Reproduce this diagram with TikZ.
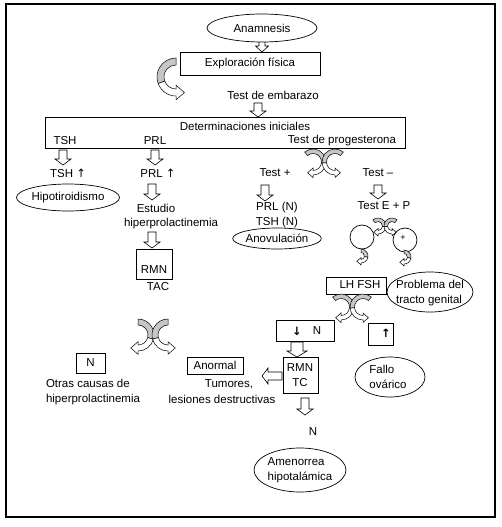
\documentclass[tikz,border=0pt]{standalone}
\usepackage{fontspec}
\setmainfont{Liberation Sans}
\newfontfamily\arrowfont{DejaVu Sans}
\usetikzlibrary{shapes.geometric}
\tikzset{
  txt/.style={inner sep=0pt, font=\fontsize{11.5}{14.5}\selectfont},
  boxn/.style={draw, line width=0.7pt, inner sep=0pt, fill=white},
  ell/.style={draw, ellipse, line width=0.7pt, inner sep=0pt, fill=white},
  harr/.style={draw, fill=white, line width=0.6pt},
  cvgray/.style={draw, fill=gray!45, line width=0.5pt},
  cvwhite/.style={draw, fill=white, line width=0.5pt},
}
% hollow block arrow: tail x, tail y, length, angle, shaft half width, head half width
\newcommand\blockarr[6]{%
  \begin{scope}[shift={(#1,#2)}, rotate=#4, yscale=-1]
    \draw[harr] (0,-#5) -- (#3-6,-#5) -- (#3-6,-#6) -- (#3,0) -- (#3-6,#6) -- (#3-6,#5) -- (0,#5) -- cycle;
  \end{scope}}
% curved arrow: centre x, y, xscale, outer R, inner r, start angle, grey end angle, head angle
\newcommand\curvarr[8]{%
  \begin{scope}[shift={(#1,#2)}, yscale=-1, xscale=#3]
    \pgfmathsetmacro\cvRm{(#4+#5)/2}%
    \pgfmathsetmacro\cvHo{#4+0.55*(#4-#5)}%
    \pgfmathsetmacro\cvHi{#5-0.55*(#4-#5)}%
    \pgfmathsetmacro\cvHl{1.2*(#4-#5)}%
    \pgfmathsetmacro\cvTx{\cvRm*cos(#8)-\cvHl*sin(#8)}%
    \pgfmathsetmacro\cvTy{\cvRm*sin(#8)+\cvHl*cos(#8)}%
    \draw[cvgray] (#6:#4) arc[start angle=#6, end angle=#7, radius=#4] -- (#7:#5) arc[start angle=#7, end angle=#6, radius=#5] -- cycle;
    \draw[cvwhite] (#7:#4) arc[start angle=#7, end angle=#8, radius=#4] -- (#8:\cvHo) -- (\cvTx,\cvTy) -- (#8:\cvHi) -- (#8:#5) arc[start angle=#8, end angle=#7, radius=#5] -- cycle;
  \end{scope}}
\begin{document}
\begin{tikzpicture}[x=1pt,y=-1pt]
\useasboundingbox (0,0) rectangle (502,527);
\draw[line width=1.2pt] (6,4) rectangle (495,517);

% block arrows
\blockarr{262}{41}{11}{-90}{3}{6.5}
\blockarr{258}{103}{14}{-90}{4}{8}
\blockarr{63}{150}{15}{-90}{4}{8}
\blockarr{155}{150}{15}{-90}{4}{8}
\blockarr{152}{184}{16}{-90}{4}{8}
\blockarr{152}{232}{16}{-90}{4}{8}
\blockarr{265}{185}{16}{-90}{4}{8}
\blockarr{378}{185}{14}{-90}{4}{8}
\blockarr{297}{342}{15}{-90}{6}{10}
\blockarr{282}{376}{20}{180}{4}{8}
\blockarr{305}{398}{17}{-90}{4}{8}

% top
\node[ell, txt, minimum width=110pt, minimum height=28pt] (anam) at (262,28) {Anamnesis};
\node[boxn, txt, minimum width=140pt, minimum height=23pt] (expl) at (250,63.5) {Exploración física};
\curvarr{176}{77}{1}{19}{12}{90}{200}{270}
\node[txt] (emb) at (273,95) {Test de embarazo};

% determinaciones
\node[boxn, minimum width=360pt, minimum height=31pt] (det) at (225,132.5) {};
\node[txt] (deti) at (245,126) {Determinaciones iniciales};
\node[txt] (tsh) at (65,141) {TSH};
\node[txt] (prl) at (155,141) {PRL};
\node[txt] (tprog) at (342,141) {Test de progesterona};

% left branch
\node[txt] (tshu) at (68,173) {TSH {\arrowfont ↑}};
\node[ell, txt, minimum width=84pt, minimum height=27pt] (hipo) at (68,197.5) {Hipotiroidismo};
\node[txt] (prlu) at (158,173) {PRL {\arrowfont ↑}};
\node[txt] (estu) at (156,208) {Estudio};
\node[txt] (hiper) at (171,224) {hiperprolactinemia};
\node[boxn, minimum width=36pt, minimum height=30pt] (rmn) at (154,264) {};
\node[txt] (rmnt) at (154,270) {RMN};
\node[txt] (tac) at (158,287) {TAC};
\curvarr{138}{335}{-1}{16}{10}{90}{195}{270}
\curvarr{168}{335}{1}{16}{10}{90}{195}{270}
\node[boxn, txt, minimum width=29pt, minimum height=20pt] (nbox) at (90.5,363) {N};
\node[txt, align=left] (otras) at (93,392) {Otras causas de\\hiperprolactinemia};

% progesterone branch
\curvarr{313}{162}{-1}{13}{8.5}{50}{185}{270}
\curvarr{335}{162}{1}{13}{8.5}{50}{185}{270}
\node[txt] (tplus) at (275,173) {Test +};
\node[txt] (tminus) at (378,173) {Test –};
\node[txt] (prln) at (277,208) {PRL (N)};
\node[txt] (tshn) at (277,223) {TSH (N)};
\node[ell, txt, minimum width=82pt, minimum height=21pt] (anov) at (277,238.5) {Anovulación};
\node[txt] (tep) at (384,206) {Test E + P};
\curvarr{378}{226}{-1}{8}{4.5}{50}{185}{270}
\curvarr{392}{226}{1}{8}{4.5}{50}{185}{270}
\node[draw, circle, line width=0.7pt, minimum size=24pt, inner sep=0pt] (c1) at (362,237) {};
\node[draw, circle, line width=0.7pt, minimum size=24pt, inner sep=0pt] (c2) at (405,240) {};
\node[inner sep=0pt, font=\fontsize{9}{9}\selectfont] (plus) at (403,238) {+};
\curvarr{361}{256}{-1}{7}{3.5}{90}{190}{270}
\curvarr{404}{257}{-1}{7}{3.5}{90}{190}{270}

\node[boxn, minimum width=60pt, minimum height=17pt] (lhbox) at (356,285.5) {};
\node[txt] (lh) at (360,285) {LH FSH};
\node[ell, minimum width=86pt, minimum height=40pt] (prob) at (430,292) {};
\node[txt, align=left] (probt) at (430,293) {Problema del\\tracto genital};
\curvarr{341}{307}{-1}{13}{8.5}{50}{185}{270}
\curvarr{363}{307}{1}{13}{8.5}{50}{185}{270}

\node[boxn, minimum width=58pt, minimum height=21pt] (dnbox) at (305,330.5) {};
\node[txt] (dn) at (297,331) {\arrowfont\bfseries ↓};
\node[txt] (dnn) at (317,331) {N};
\node[boxn, minimum width=25pt, minimum height=22pt] (upbox) at (380.5,334) {};
\node[txt] (up) at (386,333) {\arrowfont\bfseries ↑};

\node[boxn, minimum width=35pt, minimum height=36pt] (rmntc) at (300.5,375) {};
\node[txt] (rmn2) at (300,368) {RMN};
\node[txt] (tc) at (300,383) {TC};
\node[boxn, txt, minimum width=56pt, minimum height=17pt] (anor) at (215,365.5) {Anormal};
\node[txt] (tum) at (229,384) {Tumores,};
\node[txt] (les) at (222,399) {lesiones destructivas};
\node[ell, minimum width=70pt, minimum height=40pt] (fallo) at (390,377) {};
\node[txt, align=left] (fallot) at (388,377) {Fallo\\ovárico};
\node[txt] (nn) at (313,432) {N};
\node[ell, minimum width=92pt, minimum height=44pt] (amen) at (300,470) {};
\node[txt, align=left] (ament) at (300,470) {Amenorrea\\hipotalámica};
\end{tikzpicture}
\end{document}
